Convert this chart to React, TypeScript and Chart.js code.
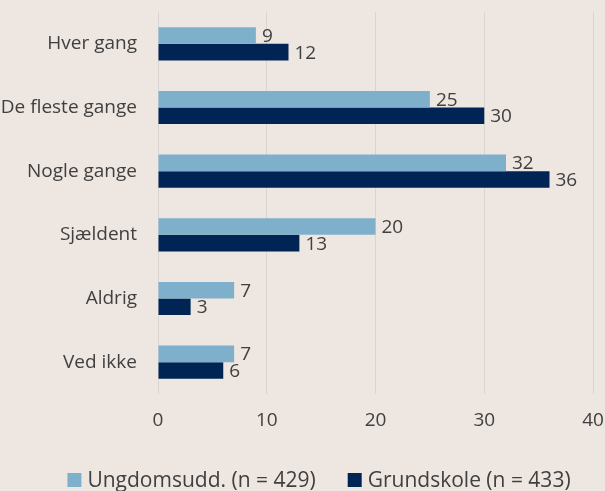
import React, { useEffect, useRef } from "react";
import { Chart, registerables } from "chart.js";

Chart.register(...registerables);

const categories = ["Hver gang", "De fleste gange", "Nogle gange", "Sjældent", "Aldrig", "Ved ikke"];
const ungdomsudd = [9, 25, 32, 20, 7, 7];
const grundskole = [12, 30, 36, 13, 3, 6];
const seriesNames = ["Ungdomsudd. (n = 429)", "Grundskole (n = 433)"];
const seriesColors = ["#7FB0CB", "#002454"];
const xTicks = [0, 10, 20, 30, 40];

const FONT = "'Open Sans', 'Noto Sans', sans-serif";
const TEXT = "#404040";

const labelPlugin = {
  id: "barLabels",
  afterDatasetsDraw(chart: any) {
    const ctx = chart.ctx;
    ctx.save();
    ctx.font = `19px ${FONT}`;
    ctx.fillStyle = TEXT;
    ctx.textAlign = "left";
    ctx.textBaseline = "middle";
    chart.data.datasets.forEach((ds: any, i: number) => {
      const meta = chart.getDatasetMeta(i);
      meta.data.forEach((bar: any, j: number) => {
        ctx.fillText(String(ds.data[j]), bar.x + 6, bar.y + 1);
      });
    });
    ctx.restore();
  },
};

const legendPlugin = {
  id: "customLegend",
  afterDraw(chart: any) {
    const ctx = chart.ctx;
    ctx.save();
    ctx.font = `21px ${FONT}`;
    const box = 14;
    const gapText = 6;
    const gapItem = 32;
    const widths = chart.data.datasets.map((ds: any) => ctx.measureText(ds.label).width);
    const total = widths.reduce((a: number, w: number) => a + box + gapText + w, 0) + gapItem * (widths.length - 1);
    let x = 319 - total / 2;
    const cy = 480;
    chart.data.datasets.forEach((ds: any, i: number) => {
      ctx.fillStyle = ds.backgroundColor;
      ctx.fillRect(x, cy - box / 2, box, box);
      x += box + gapText;
      ctx.fillStyle = TEXT;
      ctx.textAlign = "left";
      ctx.textBaseline = "alphabetic";
      ctx.fillText(ds.label, x, cy + 7);
      x += widths[i] + gapItem;
    });
    ctx.restore();
  },
};

export default function App() {
  const ref = useRef<HTMLCanvasElement>(null);
  useEffect(() => {
    document.body.style.margin = "0";
    document.body.style.background = "#EEE6E0";
    const chart = new Chart(ref.current!, {
      type: "bar",
      data: {
        labels: categories,
        datasets: [
          { label: seriesNames[0], data: ungdomsudd, backgroundColor: seriesColors[0], categoryPercentage: 0.52, barPercentage: 1.0 },
          { label: seriesNames[1], data: grundskole, backgroundColor: seriesColors[1], categoryPercentage: 0.52, barPercentage: 1.0 },
        ],
      },
      options: {
        indexAxis: "y",
        animation: false,
        responsive: false,
        layout: { padding: { top: 12, right: 12, left: 0, bottom: 47 } },
        scales: {
          x: {
            min: 0,
            max: 40,
            afterBuildTicks: (s: any) => { s.ticks = xTicks.map((v) => ({ value: v })); },
            grid: { color: "#D9D5D2", lineWidth: 1, drawTicks: false },
            border: { display: false },
            ticks: { color: TEXT, font: { family: FONT, size: 19 }, padding: 15 },
            afterFit: (s: any) => { s.height = 50; s.paddingLeft = 0; s.paddingRight = 0; },
          },
          y: {
            grid: { display: false },
            border: { display: false },
            ticks: { color: TEXT, font: { family: FONT, size: 19 }, padding: 13 },
            afterFit: (s: any) => { s.width = 158; s.paddingTop = 0; s.paddingBottom = 0; },
          },
        },
        plugins: {
          legend: { display: false },
          tooltip: { enabled: false },
        },
      },
      plugins: [labelPlugin, legendPlugin],
    } as any);
    return () => chart.destroy();
  }, []);
  return (
    <div style={{ width: 605, height: 491, background: "#EEE6E0" }}>
      <canvas ref={ref} width={605} height={491} />
    </div>
  );
}
